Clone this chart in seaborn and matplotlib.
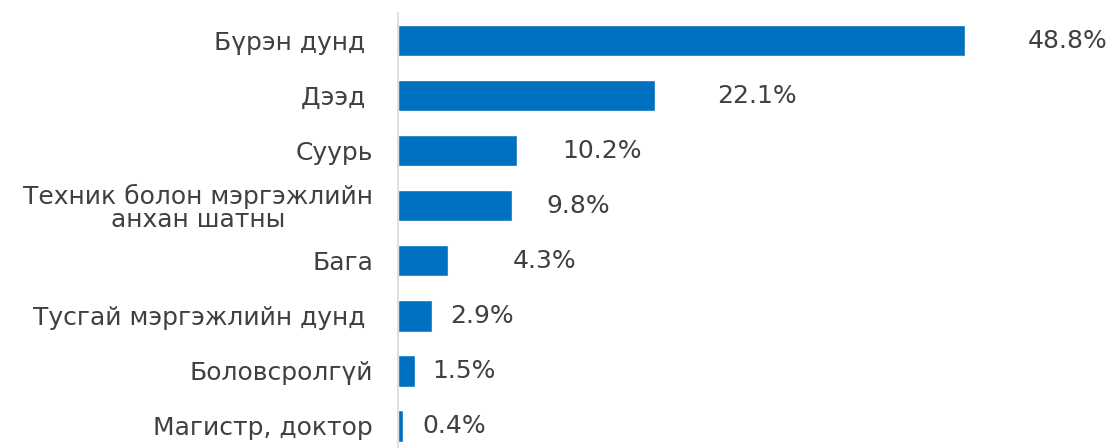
import matplotlib
matplotlib.use("Agg")
import matplotlib.pyplot as plt
import seaborn as sns
import pandas as pd

categories = [
    "Бүрэн дунд ",
    "Дээд ",
    "Суурь",
    "Техник болон мэргэжлийн\nанхан шатны",
    "Бага",
    "Тусгай мэргэжлийн дунд ",
    "Боловсролгүй",
    "Магистр, доктор",
]
values = [48.8, 22.1, 10.2, 9.8, 4.3, 2.9, 1.5, 0.4]
value_labels = ["48.8%", "22.1%", "10.2%", "9.8%", "4.3%", "2.9%", "1.5%", "0.4%"]

# label gaps from bar end (points) - style only
label_gaps = [45, 45, 33, 25, 47, 13, 12, 14]

sns.set_theme(style="white")
plt.rcParams['font.family'] = ['DejaVu Sans']

df = pd.DataFrame({"cat": categories, "val": values})

fig = plt.figure(figsize=(11.16, 4.48), dpi=100)
ax = fig.add_axes([398 / 1116, 0.0, 1 - 398 / 1116, 1 - 13 / 448])

sns.barplot(data=df, y="cat", x="val", orient="h", color="#0070C0",
            saturation=1, width=0.57, ax=ax)

FS = 18
for i, (v, lab, g) in enumerate(zip(values, value_labels, label_gaps)):
    ax.annotate(lab, xy=(v, i), xytext=(g, 0), textcoords="offset points",
                ha="left", va="center", fontsize=FS, color="#404040")

ax.set_xlim(0, 61.8)
ax.set_ylim(7.4, -0.5)
ax.set_xlabel("")
ax.set_ylabel("")
ax.set_xticks([])
for s in ["top", "right", "bottom"]:
    ax.spines[s].set_visible(False)
ax.spines["left"].set_color("#d9d9d9")
ax.spines["left"].set_linewidth(1.2)
ax.tick_params(axis="y", length=0, pad=18)
for t in ax.get_yticklabels():
    t.set_fontsize(FS)
    t.set_color("#404040")
    t.set_multialignment("center")
    t.set_linespacing(0.95)

fig.savefig("out.png", dpi=100)
